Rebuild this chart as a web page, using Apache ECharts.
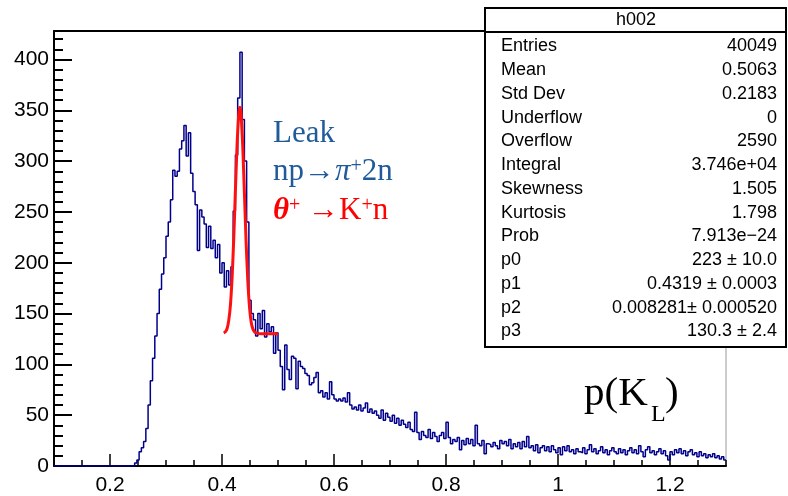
<!DOCTYPE html>
<html><head><meta charset="utf-8">
<script src="https://cdn.jsdelivr.net/npm/echarts@6/dist/echarts.min.js"></script>
<style>html,body{margin:0;padding:0;background:#fff}#c{width:788px;height:496px}</style>
</head><body><div id="c"></div>
<script>
// ---------------- data ----------------
const xMin = 0.1, xMax = 1.3, yMin = 0, yMax = 428;
const binStart = 0.244;   // left edge of first non-empty bin
const binWidth = 0.004;
const counts = [
 3,6,14,18,24,37,60,84,106,128,150,174,189,205,226,240,262,291,285,290,
 312,320,335,305,328,288,270,257,212,252,245,238,215,236,214,222,205,218,190,200,
 176,192,178,196,251,306,362,407,341,300,240,163,150,144,128,150,135,153,127,140,
 132,137,111,131,114,98,75,119,95,85,108,106,76,103,98,96,91,89,80,82,
 87,92,72,74,68,72,66,83,70,66,64,66,64,67,63,72,60,56,58,55,
 60,54,57,62,53,56,52,54,50,47,55,45,52,48,44,50,42,47,40,45,
 41,38,43,36,34,53,33,26,34,30,28,36,27,33,29,24,30,33,27,43,
 28,22,26,24,28,16,25,21,27,22,26,20,40,22,20,25,12,22,21,19,
 23,20,17,25,22,24,20,26,17,22,19,23,17,24,19,29,18,20,15,21,
 13,18,20,15,19,14,20,16,13,18,11,19,15,20,14,16,12,17,14,13,
 18,12,16,21,14,17,12,15,19,13,16,11,15,18,14,12,17,13,16,11,
 15,18,13,16,12,20,14,9,16,19,13,15,11,14,17,12,15,10,6,14,
 11,16,13,17,12,15,10,14,16,11,13,9,14,10,12,8,11,9,12,8,
 10,7,9,6
];
const fitX = [0.403,0.406,0.409,0.412,0.415,0.418,0.421,0.424,0.427,0.430,0.432,0.434,0.437,0.440,0.443,0.446,0.449,0.452,0.455,0.458,0.461,0.470,0.485,0.500];
const fitY = [131,132,135,143,158,185,224,272,317,347,353,346,315,269,221,183,157,142,135,132,131,130,130,130];

const xTickLabels = [0.2,0.4,0.6,0.8,1.0,1.2];
const xMinorTicks = [0.1,0.15,0.2,0.25,0.3,0.35,0.4,0.45,0.5,0.55,0.6,0.65,0.7,0.75,0.8,0.85,0.9,0.95,1.0,1.05,1.1,1.15,1.2,1.25,1.3];
const yTickLabels = [0,50,100,150,200,250,300,350,400];
const yMinorTicks = [0,10,20,30,40,50,60,70,80,90,100,110,120,130,140,150,160,170,180,190,200,210,220,230,240,250,260,270,280,290,300,310,320,330,340,350,360,370,380,390,400,410,420];

const statsTitle = 'h002';
const statLabels = ['Entries','Mean','Std Dev','Underflow','Overflow','Integral','Skewness','Kurtosis','Prob','p0','p1','p2','p3'];
const statValues = ['40049','0.5063','0.2183','0','2590','3.746e+04','1.505','1.798','7.913e\u221224','223 \u00b1 10.0','0.4319 \u00b1 0.0003','0.008281\u00b1 0.000520','130.3 \u00b1 2.4'];

// ---------------- build ----------------
const histData = [[xMin, 0]];
counts.forEach((c, i) => histData.push([+(binStart + i * binWidth).toFixed(4), c]));
histData.push([xMax, counts[counts.length - 1]]);
const fitData = fitX.map((x, i) => [x, fitY[i]]);

const SANS = 'Liberation Sans, Arial, sans-serif';
const SERIF = 'Liberation Serif, Times New Roman, serif';

const graphics = [];
// stats box
graphics.push({type:'rect', z:100, shape:{x:485, y:8, width:301, height:339}, style:{fill:'#fff', stroke:'#000', lineWidth:2}});
graphics.push({type:'line', z:101, shape:{x1:485, y1:32, x2:786, y2:32}, style:{stroke:'#000', lineWidth:2}});
graphics.push({type:'text', z:101, style:{text:statsTitle, x:636, y:20, align:'center', verticalAlign:'middle', font:'18px ' + SANS, fill:'#000'}});
statLabels.forEach((l, i) => {
  const y = 46.5 + i * 23.75;
  graphics.push({type:'text', z:101, style:{text:l, x:501, y:y, align:'left', verticalAlign:'middle', font:'18px ' + SANS, fill:'#000'}});
  graphics.push({type:'text', z:101, style:{text:statValues[i], x:777, y:y, align:'right', verticalAlign:'middle', font:'18px ' + SANS, fill:'#000'}});
});
// annotations
const BLUE = '#1f5a9a', RED = '#ff0000';
graphics.push({type:'text', z:90, style:{text:'Leak', x:273, y:134, verticalAlign:'middle', font:'31px ' + SERIF, fill:BLUE}});
graphics.push({type:'text', z:90, style:{
  text:'{m|np\u2192}{i|\u03c0}{s|+}{m|2n}', x:273, y:172, verticalAlign:'middle',
  rich:{m:{fontSize:31, fontFamily:SERIF, fill:BLUE, color:BLUE},
        i:{fontSize:31, fontFamily:SERIF, fontStyle:'italic', fill:BLUE, color:BLUE},
        s:{fontSize:20, fontFamily:SERIF, fill:BLUE, color:BLUE, verticalAlign:'top'}}}});
graphics.push({type:'text', z:90, style:{
  text:'{b|\u03b8}{s|+}{m| \u2192K}{s|+}{m|n}', x:273, y:211, verticalAlign:'middle',
  rich:{m:{fontSize:31, fontFamily:SERIF, fill:RED, color:RED},
        b:{fontSize:31, fontFamily:SERIF, fontStyle:'italic', fontWeight:'bold', fill:RED, color:RED},
        s:{fontSize:20, fontFamily:SERIF, fill:RED, color:RED, verticalAlign:'top'}}}});
graphics.push({type:'text', z:90, style:{text:'p(K', x:584, y:394, verticalAlign:'middle', font:'41px ' + SERIF, fill:'#000'}});
graphics.push({type:'text', z:90, style:{text:'L', x:651, y:415, verticalAlign:'middle', font:'24px ' + SERIF, fill:'#000'}});
graphics.push({type:'text', z:90, style:{text:')', x:665, y:394, verticalAlign:'middle', font:'41px ' + SERIF, fill:'#000'}});

const labelStyle = {fontSize:21, color:'#000', fontFamily:SANS};

const option = {
  animation:false,
  backgroundColor:'#fff',
  grid:{left:54, top:31, right:62, bottom:25, show:true, borderColor:'#999', borderWidth:1, backgroundColor:'transparent'},
  xAxis:[
    {type:'value', min:xMin, max:xMax, position:'bottom',
     axisLine:{onZero:false, lineStyle:{color:'#000', width:2}},
     axisTick:{inside:true, length:12, customValues:xTickLabels, lineStyle:{color:'#000', width:1.5}},
     axisLabel:Object.assign({customValues:xTickLabels, margin:9, formatter:v => String(v)}, labelStyle),
     splitLine:{show:false}},
    {type:'value', min:xMin, max:xMax, position:'bottom',
     axisLine:{show:false}, axisTick:{inside:true, length:6, customValues:xMinorTicks, lineStyle:{color:'#000', width:1.5}},
     axisLabel:{show:false}, splitLine:{show:false}},
    {type:'value', min:xMin, max:xMax, position:'top',
     axisLine:{onZero:false, lineStyle:{color:'#000', width:2}}, axisTick:{show:false}, axisLabel:{show:false}, splitLine:{show:false}}
  ],
  yAxis:[
    {type:'value', min:yMin, max:yMax, position:'left',
     axisLine:{onZero:false, lineStyle:{color:'#000', width:2}},
     axisTick:{inside:true, length:18, customValues:yTickLabels, lineStyle:{color:'#000', width:2}},
     axisLabel:Object.assign({customValues:yTickLabels, margin:5}, labelStyle),
     splitLine:{show:false}},
    {type:'value', min:yMin, max:yMax, position:'left',
     axisLine:{show:false}, axisTick:{inside:true, length:9, customValues:yMinorTicks, lineStyle:{color:'#000', width:2}},
     axisLabel:{show:false}, splitLine:{show:false}}
  ],
  series:[
    {type:'line', name:'h002', xAxisIndex:0, yAxisIndex:0, data:histData, step:'end', symbol:'none',
     lineStyle:{color:'#00008b', width:1.5}, z:3, clip:true},
    {type:'line', name:'fit', xAxisIndex:0, yAxisIndex:0, data:fitData, symbol:'none', smooth:0.2,
     lineStyle:{color:'#ff1010', width:3}, z:4}
  ],
  graphic:graphics
};
const chart = echarts.init(document.getElementById('c'), null, {renderer:'canvas'});
chart.setOption(option);
</script>
</body></html>
